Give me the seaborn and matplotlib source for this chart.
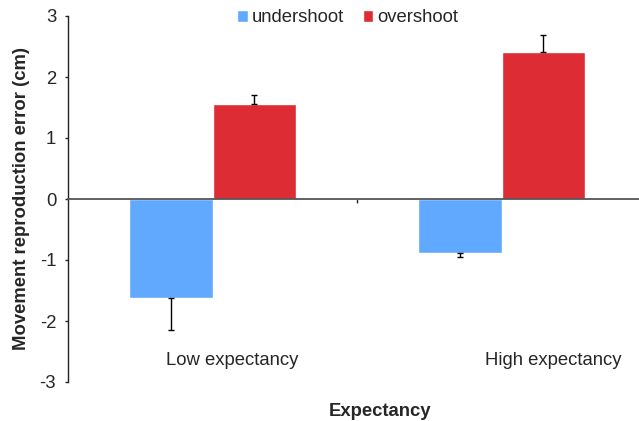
import seaborn as sns
import matplotlib.pyplot as plt
import pandas as pd

# values
categories = ['Low expectancy', 'High expectancy']
series = ['undershoot', 'overshoot']
undershoot = [-1.62, -0.88]
overshoot = [1.56, 2.41]
undershoot_err = [0.53, 0.065]
overshoot_err = [0.15, 0.28]
yticks = [-3, -2, -1, 0, 1, 2, 3]

df = pd.DataFrame({
    'Expectancy': categories * 2,
    'type': [series[0]] * 2 + [series[1]] * 2,
    'error': undershoot + overshoot,
})
errs = {series[0]: undershoot_err, series[1]: overshoot_err}

sns.set_style('white')
plt.rcParams['font.family'] = ['Liberation Sans', 'DejaVu Sans']
fs = 13.3

fig = plt.figure(figsize=(6.39, 4.21), dpi=100)
ax = fig.add_axes([68 / 639, 39 / 421, 578 / 639, 366 / 421])

sns.barplot(data=df, x='Expectancy', y='error', hue='type', order=categories,
            hue_order=series, palette=['#61A8FF', '#DD2C33'], width=0.575,
            saturation=1, errorbar=None, ax=ax)

# one-sided error bars (outward only)
for cont, name in zip(ax.containers, series):
    for bar, e in zip(cont, errs[name]):
        xc = bar.get_x() + bar.get_width() / 2
        h = bar.get_height()
        yerr = [[0], [e]] if h >= 0 else [[e], [0]]
        ax.errorbar(xc, h, yerr=yerr, fmt='none', ecolor='black',
                    elinewidth=1, capsize=2.5, capthick=1)

ax.set_xlim(-0.5, 1.5)
ax.set_ylim(-3, 3)
ax.set_yticks(yticks)
ax.set_yticklabels([str(t) for t in yticks], fontsize=fs)
ax.tick_params(axis='y', direction='out', length=2.5, width=1, left=True, pad=6)

# category axis crosses at zero, tick between the groups
for s in ['top', 'right']:
    ax.spines[s].set_visible(False)
ax.spines['bottom'].set_position(('data', 0))
ax.spines['bottom'].set_color('#555555')
ax.spines['bottom'].set_linewidth(1.3)
ax.spines['left'].set_color('#222222')
ax.spines['left'].set_linewidth(1)
ax.set_xticks([0.5])
ax.set_xticklabels([''])
ax.tick_params(axis='x', direction='out', length=3, width=1, bottom=True)

# category labels sit low in the plot
label_x = [0.067, 1.18]
for lx, cat in zip(label_x, categories):
    ax.text(lx, -2.64, cat, ha='center', va='center', fontsize=fs)

ax.set_xlabel('')
ax.set_ylabel('')
fig.text(22 / 639, 1 - 198 / 421, 'Movement reproduction error (cm)', rotation=90,
         ha='center', va='center', fontsize=fs, fontweight='bold')
fig.text(380 / 639, 1 - 411 / 421, 'Expectancy', ha='center', va='center',
         fontsize=fs, fontweight='bold')

handles, labels = ax.get_legend_handles_labels()
ax.legend(handles, labels, loc='center', bbox_to_anchor=(348 / 639, 1 - 18 / 421),
          bbox_transform=fig.transFigure, ncol=2, frameon=False, fontsize=fs,
          handlelength=0.55, handleheight=0.55, handletextpad=0.25, columnspacing=1.0)

fig.savefig('out.png', dpi=100)
